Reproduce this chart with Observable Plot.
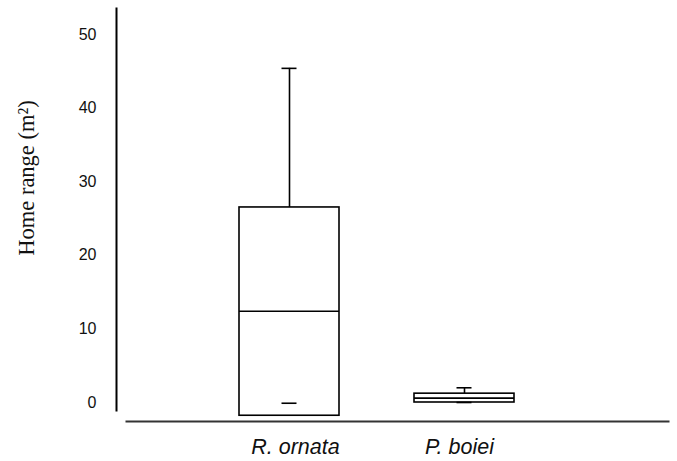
<!DOCTYPE html>
<html>
<head>
<meta charset="utf-8">
<script src="https://cdn.jsdelivr.net/npm/d3@7"></script>
<script src="https://cdn.jsdelivr.net/npm/@observablehq/plot@0.6"></script>
<style>
  html, body { margin: 0; padding: 0; background: #fff; }
  svg { display: block; }
</style>
</head>
<body>
<div id="chart"></div>
<script>
// Data
const species = ["R. ornata", "P. boiei"];
const q1 = [-1.8, 0.0];
const median = [12.4, 0.6];
const q3 = [26.5, 1.2];
const whiskerHigh = [45.4, 2.0];
const whiskerLow = [-0.1, 0.0];
const yTicks = [0, 10, 20, 30, 40, 50];
const yTitle = "Home range (m²)";

const data = species.map((s, i) => ({
  species: s, q1: q1[i], median: median[i], q3: q3[i],
  hi: whiskerHigh[i], lo: whiskerLow[i]
}));

const capInset = 42.5;

const chart = Plot.plot({
  width: 677,
  height: 461,
  marginTop: 8,
  marginBottom: 40,
  marginLeft: 116,
  marginRight: 9,
  style: { fontFamily: "'Liberation Sans', Arial, sans-serif", background: "#fff", color: "#000" },
  x: { type: "band", domain: species, range: [151.5, 601.5], paddingInner: 0.4286, paddingOuter: 0.5, axis: null },
  y: { domain: [-2.582, 53.533], axis: null },
  marks: [
    // axes lines
    Plot.frame({ anchor: "left", stroke: "#000", strokeWidth: 2, insetBottom: 11 }),
    Plot.frame({ anchor: "bottom", stroke: "#333", strokeWidth: 2, insetLeft: 10 }),
    Plot.axisY({ ticks: yTicks, tickSize: 0, tickPadding: 20, fontSize: 16, label: null, fill: "#111" }),
    Plot.axisX(["R. ornata"], { tickSize: 0, tickPadding: 17, fontSize: 21.5, fontStyle: "italic", label: null, dx: 6, fill: "#111" }),
    Plot.axisX(["P. boiei"], { tickSize: 0, tickPadding: 17, fontSize: 21.5, fontStyle: "italic", label: null, dx: -5, fill: "#111" }),
    Plot.text([yTitle], {
      frameAnchor: "left", rotate: -90, dx: -90, dy: -37,
      fontSize: 22.5, fontFamily: "'Liberation Serif', 'Times New Roman', serif", fill: "#111", textAnchor: "middle"
    }),
    // whiskers
    Plot.ruleX(data, { x: "species", y1: "q3", y2: "hi", stroke: "#000", strokeWidth: 1.6 }),
    Plot.tickY(data, { x: "species", y: "hi", stroke: "#000", strokeWidth: 1.6, insetLeft: capInset, insetRight: capInset }),
    // boxes
    Plot.rectY(data, { x: "species", y1: "q1", y2: "q3", fill: "#fff", stroke: "#000", strokeWidth: 1.6 }),
    Plot.tickY(data, { x: "species", y: "median", stroke: "#000", strokeWidth: 1.6 }),
    Plot.tickY(data, { x: "species", y: "lo", stroke: "#000", strokeWidth: 1.6, insetLeft: capInset, insetRight: capInset })
  ]
});

document.getElementById("chart").appendChild(chart);
</script>
</body>
</html>
